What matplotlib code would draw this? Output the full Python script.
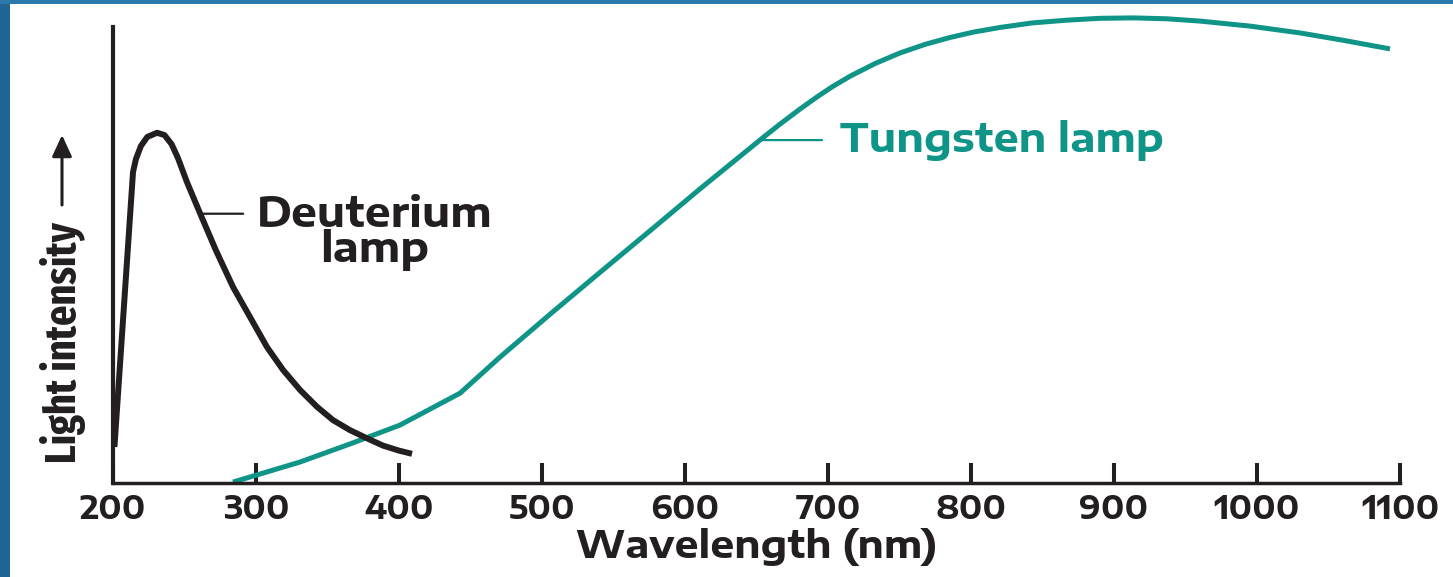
import os
import numpy as np
import matplotlib
matplotlib.use("Agg")
import matplotlib.pyplot as plt
import matplotlib.font_manager as fm
from matplotlib.patches import Rectangle
from matplotlib.textpath import TextPath

# ---------------- data ----------------
deut_wl = [201.0, 214.0, 216.0, 219.5, 224.0, 230.8, 236.0, 241.0, 245.5, 251.7, 260.8,
           272.0, 283.9, 295.8, 307.7, 318.9, 330.8, 342.7, 353.8, 365.7, 377.6,
           388.8, 400.0, 409.1]
deut_int = [7.9, 68.2, 71.0, 73.9, 75.9, 76.8, 76.3, 74.3, 71.2, 66.0, 59.2,
            51.0, 43.0, 36.4, 29.8, 24.8, 20.4, 16.7, 13.8, 11.6, 9.8,
            8.2, 7.1, 6.4]

tung_wl = [283.9, 330.8, 367.8, 400.7, 442.7, 470.6, 505.6, 540.6, 575.5, 610.5,
           652.4, 666.0, 680.4, 692.0, 703.0, 715.4, 733.0, 750.3, 768.0, 785.3,
           802.0, 820.3, 843.0, 867.1, 890.0, 913.3, 937.0, 960.1, 995.0, 1030.1,
           1060.0, 1093.0]
tung_int = [0.2, 4.6, 8.8, 12.7, 19.7, 27.6, 37.0, 46.2, 55.3, 64.5,
            75.2, 78.6, 82.0, 84.6, 86.9, 89.2, 92.0, 94.3, 96.2, 97.7,
            98.9, 99.9, 100.9, 101.5, 101.9, 102.0, 101.8, 101.3, 100.2, 98.7,
            97.1, 95.2]

xticks = [200, 300, 400, 500, 600, 700, 800, 900, 1000, 1100]
xtick_labels = ["200", "300", "400", "500", "600", "700", "800", "900", "1000", "1100"]

deut_label = "Deuterium\nlamp"
tung_label = "Tungsten lamp"
xlabel = "Wavelength (nm)"
ylabel = "Light intensity"

DARK = "#231f20"
TEAL = "#0f9488"
DPI = 100

plt.rcParams["font.family"] = ["DejaVu Sans"]
plt.rcParams["font.weight"] = "bold"

_files = {os.path.basename(f.fname): f.fname for f in fm.fontManager.ttflist}


def pick(names, fallback):
    for n in names:
        if n in _files:
            return fm.FontProperties(fname=_files[n])
    return fallback


fp_main = pick(["EncodeSansExpanded-Bold.ttf", "EncodeSansSemiExpanded-Bold.ttf"],
               fm.FontProperties(family="DejaVu Sans", weight="bold"))
fp_ylab = pick(["FiraSansExtraCondensed-Bold.ttf", "FiraSansCondensed-Bold.ttf",
                "RobotoCondensed-Bold.ttf", "DejaVuSansCondensed-Bold.ttf"],
               fm.FontProperties(family="DejaVu Sans", weight="bold"))


def cap_em(fp):
    return TextPath((0, 0), "H", size=1, prop=fp).get_extents().height


W, H = 1453, 577
fig = plt.figure(figsize=(W / DPI, H / DPI), dpi=DPI)
fig.patch.set_facecolor("white")

ax = fig.add_axes([113 / W, 94 / H, 1340 / W, 483 / H])
ax.set_xlim(200, 200 + 1340 / 1.43)
ax.set_ylim(0, 483 / 4.56)
ax.set_facecolor("none")

ax.plot(tung_wl, tung_int, color=TEAL, lw=3.6, solid_capstyle="butt",
        solid_joinstyle="round", clip_on=False, zorder=2)
ax.plot(deut_wl, deut_int, color=DARK, lw=4.3, solid_capstyle="butt",
        solid_joinstyle="round", clip_on=False, zorder=3)

for s in ("top", "right"):
    ax.spines[s].set_visible(False)
ax.spines["left"].set_bounds(0, 100)
ax.spines["left"].set_linewidth(3.0)
ax.spines["left"].set_color(DARK)
ax.spines["bottom"].set_bounds(200, 1100)
ax.spines["bottom"].set_linewidth(2.5)
ax.spines["bottom"].set_color(DARK)

ax.set_yticks([])
ax.set_xticks(xticks)
ax.set_xticklabels(xtick_labels, fontproperties=fp_main)
ax.tick_params(axis="x", direction="in", length=14.5, width=2.9, colors=DARK,
               pad=7.0, labelsize=20)

# leader lines from the curves to the labels
dy = float(np.interp(261, deut_wl, deut_int))
ax.annotate("", xy=(261, dy), xytext=(291, dy),
            arrowprops=dict(arrowstyle="-", color=DARK, lw=1.6, shrinkA=0, shrinkB=0))
ty = float(np.interp(652.4, tung_wl, tung_int))
ax.annotate("", xy=(652.4, ty), xytext=(695.8, ty),
            arrowprops=dict(arrowstyle="-", color=TEAL, lw=1.6, shrinkA=0, shrinkB=0))

# multi-line text: baseline alignment refers to the last line ("lamp")
t_deut = ax.text(300.7, 48.5, deut_label, ha="left", va="baseline",
                 multialignment="center", fontproperties=fp_main, fontsize=20, color=DARK)
t_tung = ax.text(708.4, 72.6, tung_label, ha="left", va="baseline",
                 fontproperties=fp_main, fontsize=20, color=TEAL)

ax.set_xlabel(xlabel, fontproperties=fp_main, fontsize=20, color=DARK, va="baseline")
ax.xaxis.set_label_coords((757 - 113) / 1340, -(558 - 483) / 483)

ax.set_ylabel(ylabel, fontproperties=fp_ylab, fontsize=20, color=DARK)
ax.yaxis.label.set_rotation_mode("anchor")
ax.yaxis.label.set_ha("left")
ax.yaxis.label.set_va("baseline")
ax.yaxis.set_label_coords((76 - 113) / 1340, (483 - 463) / 483)

# ---- size the texts to the reference's measured extents ----
fig.canvas.draw()
rend = fig.canvas.get_renderer()


def fit_size(t, target_w, target_cap, vertical=False, ww=0.55):
    fs0 = t.get_fontsize()
    bb = t.get_window_extent(rend)
    w = bb.height if vertical else bb.width
    fs_w = fs0 * target_w / max(w, 1)
    fs_h = target_cap / (cap_em(t.get_fontproperties()) * DPI / 72)
    return fs_w ** ww * fs_h ** (1 - ww)


fs_deut = fit_size(t_deut, 275, 25)
t_deut.set_fontsize(fs_deut)
lp = TextPath((0, 0), "lp", size=1, prop=fp_main).get_extents()
a_em, d_em = lp.y1, -lp.y0
fs_px = fs_deut * DPI / 72
t_deut.set_linespacing(max(0.5, (35.0 / fs_px - d_em) / a_em))

t_tung.set_fontsize(fit_size(t_tung, 383, 24))
ax.xaxis.label.set_fontsize(fit_size(ax.xaxis.label, 440, 22))
ax.yaxis.label.set_fontsize(fit_size(ax.yaxis.label, 241, 37, vertical=True, ww=1.0))
tl = ax.get_xticklabels()[8]
ax.tick_params(axis="x", labelsize=fit_size(tl, 97, 20))

# arrow of the y label
ax.annotate("", xy=(62, H - 135), xycoords="figure pixels",
            xytext=(62, H - 205), textcoords="figure pixels",
            arrowprops=dict(arrowstyle="-|>,head_length=0.65,head_width=0.3",
                            lw=2.2, color=DARK, mutation_scale=20,
                            shrinkA=0, shrinkB=0),
            annotation_clip=False)

# blue frame strips
fig.patches.append(Rectangle((0, 0), 10 / W, 1, transform=fig.transFigure,
                             facecolor="#1f6596", edgecolor="none", zorder=10))
fig.patches.append(Rectangle((0, 1 - 4 / H), 1, 4 / H, transform=fig.transFigure,
                             facecolor="#2b78ad", edgecolor="none", zorder=10))

fig.savefig("out.png", dpi=DPI)
